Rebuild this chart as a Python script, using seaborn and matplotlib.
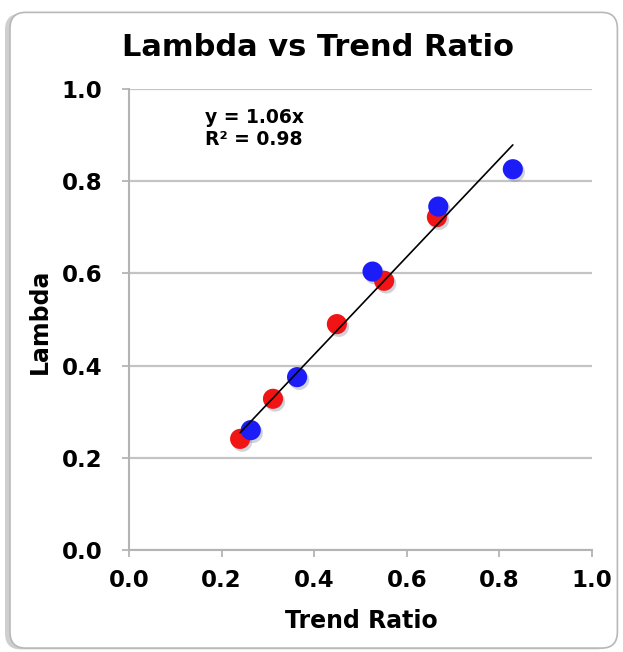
import numpy as np
import pandas as pd
import matplotlib
matplotlib.use("Agg")
import matplotlib.pyplot as plt
import matplotlib.patheffects as pe
from matplotlib.patches import FancyBboxPatch
import seaborn as sns

# data
red_x = [0.240, 0.311, 0.449, 0.551, 0.665]
red_y = [0.241, 0.328, 0.490, 0.584, 0.722]
blue_x = [0.263, 0.363, 0.526, 0.668, 0.829]
blue_y = [0.260, 0.375, 0.604, 0.745, 0.826]
slope = 1.06
r2 = 0.98
ticks = [0.0, 0.2, 0.4, 0.6, 0.8, 1.0]

df = pd.DataFrame({
    "Trend Ratio": red_x + blue_x,
    "Lambda": red_y + blue_y,
    "set": ["red"] * len(red_x) + ["blue"] * len(blue_x),
})

sns.set_style("white")
plt.rcParams["font.family"] = ["DejaVu Sans"]
plt.rcParams["font.weight"] = "bold"
plt.rcParams["text.color"] = "black"

W, H = 623, 652
fig = plt.figure(figsize=(W / 100, H / 100), dpi=100)

# rounded frame with a soft shadow on the left
shadow = FancyBboxPatch((0.008, 0.004), 0.975, 0.975, boxstyle="round,pad=0,rounding_size=0.025",
                        transform=fig.transFigure, facecolor="#cfcfcf", edgecolor="none", zorder=-2)
frame = FancyBboxPatch((0.016, 0.006), 0.975, 0.975, boxstyle="round,pad=0,rounding_size=0.025",
                       transform=fig.transFigure, facecolor="white", edgecolor="#b8b8b8", linewidth=1.2, zorder=-1)
fig.patches.extend([shadow, frame])

# axes: x 0..1 -> px 129..592, y 0..1 -> px 550..89
ax = fig.add_axes([129 / W, 1 - 550 / H, (592 - 129) / W, (550 - 89) / H])
ax.set_zorder(2)
ax.set_facecolor("none")

ax.set_xlim(0, 1)
ax.set_ylim(0, 1)
ax.set_xticks(ticks)
ax.set_yticks(ticks)
ax.set_xticklabels([f"{t:.1f}" for t in ticks], fontsize=16.5, fontweight="bold")
ax.set_yticklabels([f"{t:.1f}" for t in ticks], fontsize=16.5, fontweight="bold")
ax.yaxis.grid(True, color="#c4c4c4", linewidth=1.6)
ax.set_axisbelow(True)
for s in ["top", "right"]:
    ax.spines[s].set_visible(False)
for s in ["left", "bottom"]:
    ax.spines[s].set_color("#b4b4b4")
    ax.spines[s].set_linewidth(1.5)
ax.tick_params(axis="x", direction="out", length=5, width=1.3, color="#b4b4b4", labelcolor="black", pad=9)
ax.tick_params(axis="y", direction="out", length=5, width=1.3, color="#b4b4b4", labelcolor="black", pad=14)
ax.tick_params(bottom=True, left=True)

shadow_fx = [pe.SimplePatchShadow(offset=(1.5, -2), shadow_rgbFace="#8080a0", alpha=0.35), pe.Normal()]
sns.scatterplot(data=df, x="Trend Ratio", y="Lambda", hue="set",
                palette={"red": "#f01414", "blue": "#1c1cf8"}, s=210,
                edgecolor="none", legend=False, ax=ax, zorder=3)
for coll in ax.collections:
    coll.set_path_effects(shadow_fx)

all_x = np.array(red_x + blue_x)
fx = np.array([all_x.min(), all_x.max()])
ax.plot(fx, slope * fx, color="black", linewidth=1.2, zorder=4)

ax.set_xlabel("")
ax.set_ylabel("")
fig.text(285 / W, 1 - 628 / H, "Trend Ratio", ha="left", va="baseline", fontsize=17, fontweight="bold")
fig.text(40 / W, 1 - 321 / H, "Lambda", ha="center", va="center", rotation=90, fontsize=17, fontweight="bold")
fig.text(122 / W, 1 - 56 / H, "Lambda vs Trend Ratio", ha="left", va="baseline", fontsize=22, fontweight="bold")
fig.text(205 / W, 1 - 123 / H, f"y = {slope:.2f}x", ha="left", va="baseline", fontsize=13.5, fontweight="bold")
fig.text(205 / W, 1 - 145 / H, f"R² = {r2:.2f}", ha="left", va="baseline", fontsize=13.5, fontweight="bold")

fig.savefig("out.png", dpi=100)
